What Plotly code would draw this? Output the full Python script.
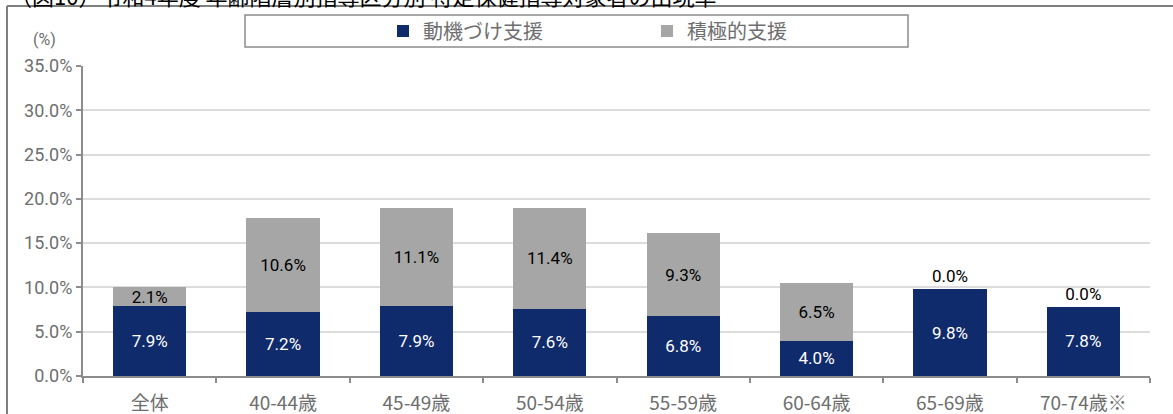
import plotly.graph_objects as go

# Data: rate of specific health guidance targets by age group (%)
categories = ["全体", "40-44歳", "45-49歳", "50-54歳", "55-59歳", "60-64歳", "65-69歳", "70-74歳※"]
motivational = [7.9, 7.2, 7.9, 7.6, 6.8, 4.0, 9.8, 7.8]
active = [2.1, 10.6, 11.1, 11.4, 9.3, 6.5, 0.0, 0.0]
y_ticks = [0, 5, 10, 15, 20, 25, 30, 35]

NAVY = "#0f2b6c"
GRAY = "#a6a6a6"
TICK_GRAY = "#6e6e6e"
FONT = "Roboto, Noto Sans CJK JP, sans-serif"

W, H = 1173, 414
ML, MR, MT, MB = 83, 23, 66, 38
PW, PH = W - ML - MR, H - MT - MB


def px_x(p):
    return (p - ML) / PW


def px_y(p):
    return (H - MB - p) / PH


fig = go.Figure()

fig.add_trace(go.Bar(
    name="動機づけ支援",
    x=categories,
    y=motivational,
    marker=dict(color=NAVY, line=dict(width=0)),
    text=[f"{v:.1f}%" for v in motivational],
    textposition="inside",
    insidetextanchor="middle",
    constraintext="none",
    textangle=0,
    insidetextfont=dict(color="white", size=17, family=FONT),
))

fig.add_trace(go.Bar(
    name="積極的支援",
    x=categories,
    y=active,
    marker=dict(color=GRAY, line=dict(width=0)),
    text=[f"{v:.1f}%" for v in active],
    textposition=["inside" if v > 0 else "outside" for v in active],
    insidetextanchor="middle",
    constraintext="none",
    textangle=0,
    cliponaxis=False,
    insidetextfont=dict(color="black", size=17, family=FONT),
    outsidetextfont=dict(color="black", size=17, family=FONT),
))

shapes = [
    # outer frame (top and left edges)
    dict(type="line", xref="paper", yref="paper",
         x0=px_x(7), x1=px_x(W + 5), y0=px_y(6), y1=px_y(6),
         line=dict(color="#7f7f7f", width=2)),
    dict(type="line", xref="paper", yref="paper",
         x0=px_x(7), x1=px_x(7), y0=px_y(6), y1=px_y(H + 5),
         line=dict(color="#7f7f7f", width=2)),
    # legend box
    dict(type="rect", xref="paper", yref="paper",
         x0=px_x(245), x1=px_x(908), y0=px_y(15), y1=px_y(47),
         line=dict(color="#8c8c8c", width=1.5), fillcolor="rgba(0,0,0,0)"),
]

annotations = [
    dict(text="（図10）令和4年度 年齢階層別指導区分別 特定保健指導対象者の出現率",
         xref="paper", yref="paper", x=px_x(8), y=px_y(-5),
         xanchor="left", yanchor="middle", showarrow=False,
         font=dict(size=22, color="black", family="Noto Sans CJK JP")),
    dict(text="(%)", xref="paper", yref="paper", x=px_x(45), y=px_y(40),
         xanchor="center", yanchor="middle", showarrow=False,
         font=dict(size=16, color=TICK_GRAY, family=FONT)),
]

fig.update_layout(
    width=W, height=H,
    margin=dict(l=ML, r=MR, t=MT, b=MB),
    barmode="stack",
    bargap=0.45,
    plot_bgcolor="white",
    paper_bgcolor="white",
    font=dict(family=FONT, color=TICK_GRAY),
    shapes=shapes,
    annotations=annotations,
    legend=dict(
        orientation="h",
        x=px_x(383), y=px_y(31),
        xanchor="left", yanchor="middle",
        font=dict(size=20, color=TICK_GRAY, family="Noto Sans CJK JP"),
        entrywidth=219,
        itemwidth=30,
        bgcolor="rgba(0,0,0,0)",
        traceorder="normal",
    ),
    xaxis=dict(
        type="category",
        automargin=False,
        showline=True, linecolor="#8c8c8c", linewidth=2,
        ticks="outside", tickson="boundaries", ticklen=5,
        tickcolor="#8c8c8c", tickwidth=1.5,
        ticklabelstandoff=9,
        tickfont=dict(size=19, color=TICK_GRAY, family="Noto Sans CJK JP"),
        showgrid=False,
    ),
    yaxis=dict(
        range=[0, 35],
        automargin=False,
        tickvals=y_ticks,
        ticktext=[f"{v:.1f}%" for v in y_ticks],
        showline=True, linecolor="#8c8c8c", linewidth=2,
        ticks="outside", ticklen=5, tickcolor="#8c8c8c", tickwidth=1.5,
        tickfont=dict(size=18, color=TICK_GRAY, family=FONT),
        showgrid=True, gridcolor="#dcdcdc", gridwidth=1.5,
        zeroline=False,
    ),
)

fig.write_html("out.html")
